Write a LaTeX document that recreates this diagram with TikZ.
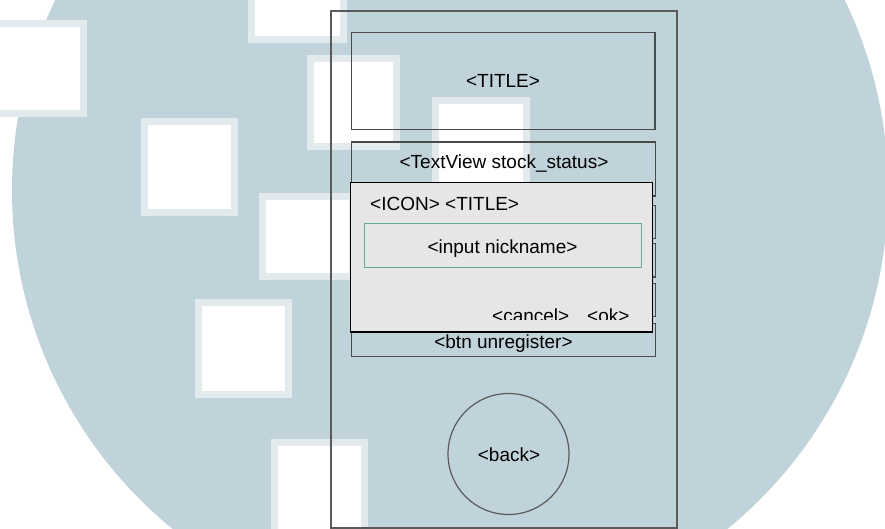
\documentclass[tikz,border=0pt]{standalone}
\usepackage{fontspec}
\setmainfont{Liberation Sans}
\definecolor{wash}{HTML}{C0D3DA}
\definecolor{washrim}{HTML}{E2EAEE}
\definecolor{dlgfill}{HTML}{E6E6E6}
\definecolor{inputline}{HTML}{67AB9F}
\definecolor{frameline}{HTML}{5A5A5A}
\definecolor{boxline}{HTML}{4A4A4A}

\begin{document}
\begin{tikzpicture}[x=1pt,y=-1pt,
  panel/.style={draw=boxline, line width=1.2pt, inner sep=0pt, outer sep=0pt, anchor=north west},
  lbl/.style={font=\fontsize{19}{22}\selectfont, inner sep=0pt, anchor=base}]
\useasboundingbox (0,0) rectangle (885,529);
\fill[white] (0,0) rectangle (885,529);

% background wash: a large disc with white squares
\begin{scope}
  \clip (0,0) rectangle (885,529);
  \fill[wash] (450,190) circle[radius=438];
  \foreach \x/\y/\w/\h in {-10/20/97/97, 248/-55/99/98, 307/55/93/95, 432/97/98/97,
                           141/118/97/98, 259/193/97/87, 195/299/97/99, 271/439/97/97} {
    \fill[washrim] (\x,\y) rectangle ++(\w,\h);
    \fill[white] (\x+7,\y+7) rectangle ++(\w-14,\h-14);
  }
\end{scope}

% phone frame
\node[panel, draw=frameline, minimum width=346pt, minimum height=517pt] (frame) at (331,11) {};

% header
\node[panel, minimum width=303.5pt, minimum height=97pt] (titlebox) at (351.5,32.5) {};
\node[lbl] (titletext) at (503,88) {<TITLE>};

% content rows
\node[panel, minimum width=304pt, minimum height=54pt] (statusbox) at (351.5,142) {};
\node[lbl] (statustext) at (504,169) {<TextView stock\_status>};
\node[panel, minimum width=304pt, minimum height=33pt] (rowa) at (351.5,205.5) {};
\node[panel, minimum width=304pt, minimum height=33.5pt] (rowb) at (351.5,243.5) {};
\node[panel, minimum width=304pt, minimum height=33pt] (rowc) at (351.5,283.5) {};
\node[panel, minimum width=304pt, minimum height=33pt] (unregbox) at (351.5,323.5) {};
\node[lbl] (unregtext) at (503.5,348) {<btn unregister>};

% dialog
\node[panel, draw=black, fill=dlgfill, line width=1.3pt, minimum width=302pt, minimum height=149.5pt] (dialog) at (350.5,182.5) {};
\node[lbl, anchor=base west] (dlgtitle) at (370,211) {<ICON> <TITLE>};
\node[panel, draw=inputline, line width=1pt, minimum width=277pt, minimum height=43pt] (inputbox) at (364,224) {};
\node[lbl] (inputtext) at (502.5,253) {<input nickname>};
\begin{scope}
  \clip (480,300) rectangle (645,319.5);
  \node[lbl, anchor=base west] (canceltext) at (492,322) {<cancel>};
  \node[lbl, anchor=base west] (oktext) at (587,322) {<ok>};
\end{scope}

% back button
\node[circle, draw=frameline, line width=1.2pt, minimum size=121pt, inner sep=0pt] (backbtn) at (508.5,454) {};
\node[lbl] (backtext) at (509,461) {<back>};
\end{tikzpicture}
\end{document}
